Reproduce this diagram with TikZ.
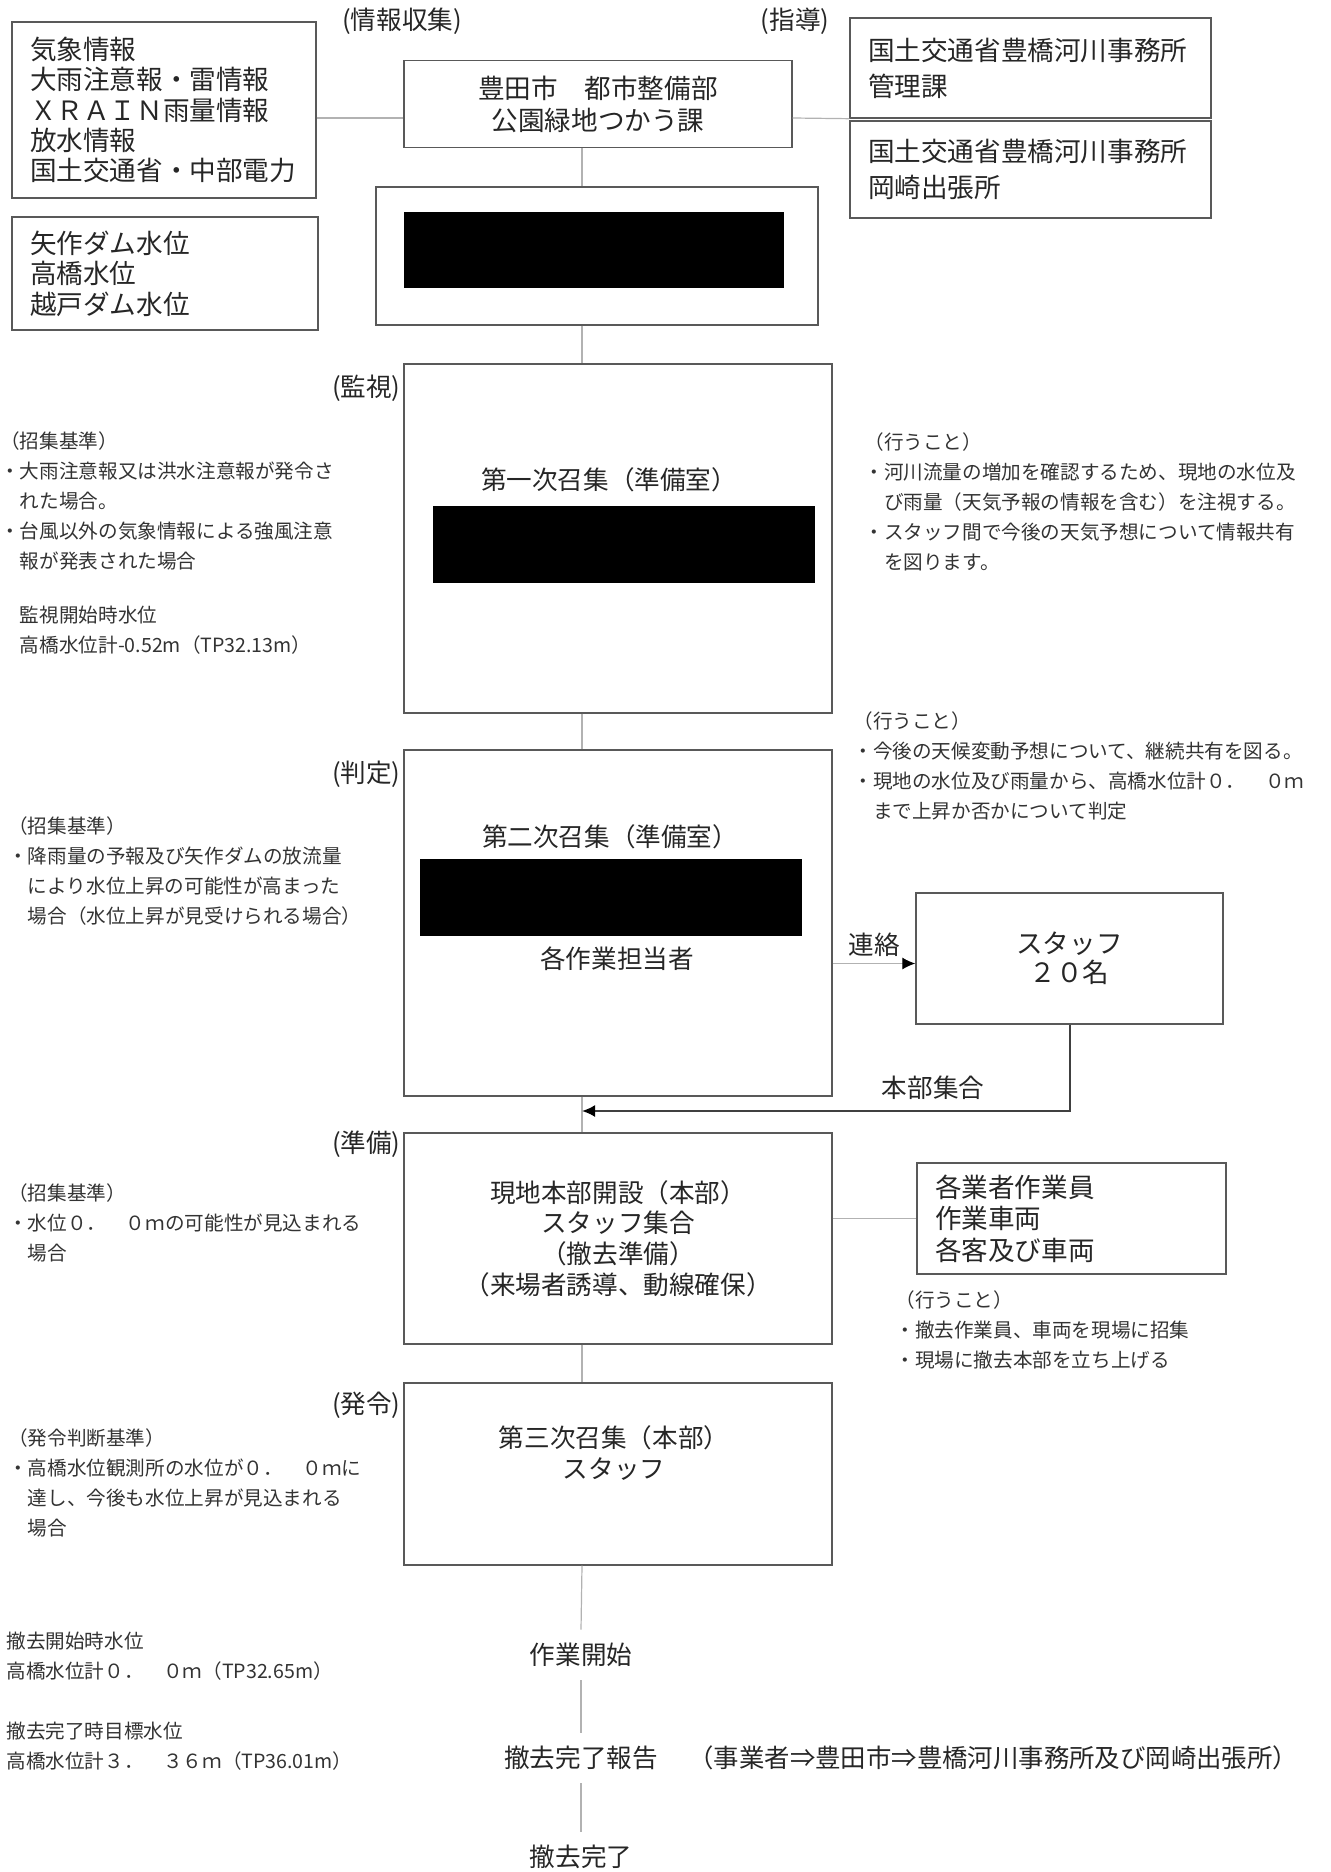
\documentclass[tikz,border=0pt]{standalone}
\usepackage{fontspec}
\setmainfont{Noto Sans CJK JP}
\usetikzlibrary{arrows.meta}
\newcommand{\bigfont}{\fontsize{12.8}{15.4}\selectfont}
\newcommand{\notefont}{\fontsize{9.8}{15}\selectfont}

\begin{document}
\begin{tikzpicture}[x=0.5pt,y=-0.5pt,
  frame/.style={draw=black!65,line width=0.7pt,inner sep=0pt,text=black!85},
  listbox/.style={frame,align=left,inner xsep=9pt,font=\fontsize{13.3}{15.2}\selectfont},
  bar/.style={fill=black,inner sep=0pt},
  phase/.style={inner sep=0pt,text=black!85,font=\fontsize{12.8}{15}\selectfont},
  note/.style={anchor=north west,align=left,inner sep=0pt,text=black!80,font=\notefont},
  link/.style={draw=black!30,line width=0.6pt},
  tip/.style={-{Latex[length=6.5pt,width=6pt,color=black]}},
  milestone/.style={inner sep=0pt,minimum height=25pt,text=black!85,font=\bigfont}
]
\useasboundingbox (0,0) rectangle (1330,1872);
\coordinate (spine) at (582,0);
\coordinate (tie) at (0,118);
\coordinate (merge) at (582,1111);

% information
\node[phase] (collect) at (402,21) {(情報収集)};
\node[phase] (guide) at (795,21) {(指導)};
\node[listbox,text width=134pt,minimum height=88pt] (weather) at (164,110)
  {気象情報\\大雨注意報・雷情報\\ＸＲＡＩＮ雨量情報\\放水情報\\国土交通省・中部電力};
\node[listbox,text width=135pt,minimum height=56.5pt] (level) at (165,273.5)
  {矢作ダム水位\\高橋水位\\越戸ダム水位};
\node[frame,align=center,minimum width=194pt,minimum height=43.5pt,font=\fontsize{13.3}{16}\selectfont] (city) at (598,104)
  {豊田市　都市整備部\\公園緑地つかう課};
\node[listbox,text width=162.5pt,minimum height=50pt,font=\fontsize{13.3}{18}\selectfont] (mlit1) at (1030.5,68)
  {国土交通省豊橋河川事務所\\管理課};
\node[listbox,text width=162.5pt,minimum height=48.5pt,font=\fontsize{13.3}{18}\selectfont] (mlit2) at (1030.5,169.5)
  {国土交通省豊橋河川事務所\\岡崎出張所};
\node[frame,minimum width=221pt,minimum height=69pt] (hidden) at (597,256) {};
\node[bar,minimum width=190pt,minimum height=38pt] (bar0) at (594,250) {};

% monitoring
\node[phase,anchor=east] (p1) at (401,388) {(監視)};
\node[frame,minimum width=214pt,minimum height=174.5pt] (first) at (618,538.5) {};
\node[font=\bigfont,text=black!85] (firstcap) at (609,480) {第一次召集（準備室）};
\node[bar,minimum width=191pt,minimum height=38.5pt] (bar1) at (624,544.5) {};
\node[note] (crit1) at (0,431) {（招集基準）\\・大雨注意報又は洪水注意報が発令さ\\　れた場合。\\・台風以外の気象情報による強風注意\\　報が発表された場合};
\node[note] (watch) at (0,606) {　監視開始時水位\\　高橋水位計-0.52m（TP32.13m）};
\node[note] (todo1) at (864,432) {（行うこと）\\・河川流量の増加を確認するため、現地の水位及\\　び雨量（天気予報の情報を含む）を注視する。\\・スタッフ間で今後の天気予想について情報共有\\　を図ります。};

% judgement
\node[phase,anchor=east] (p2) at (401,774) {(判定)};
\node[frame,minimum width=214pt,minimum height=173pt] (second) at (618,923) {};
\node[font=\bigfont,text=black!85] (secondcap) at (610,837) {第二次召集（準備室）};
\node[bar,minimum width=191pt,minimum height=38.5pt] (bar2) at (611,897.5) {};
\node[font=\bigfont,text=black!85] (workers) at (617,959) {各作業担当者};
\node[frame,align=center,minimum width=153.5pt,minimum height=65.5pt,font=\fontsize{13.3}{14.5}\selectfont] (staff) at (1069.5,958.5)
  {スタッフ\\２０名};
\node[note] (todo2) at (853,711) {（行うこと）\\・今後の天候変動予想について、継続共有を図る。\\・現地の水位及び雨量から、高橋水位計０．　０ｍ\\　まで上昇か否かについて判定};
\node[note] (crit2) at (8,816) {（招集基準）\\・降雨量の予報及び矢作ダムの放流量\\　により水位上昇の可能性が高まった\\　場合（水位上昇が見受けられる場合）};

% preparation
\node[phase,anchor=east] (p3) at (401,1144) {(準備)};
\node[frame,align=center,minimum width=214pt,minimum height=105.5pt,font=\fontsize{12.8}{15.3}\selectfont] (base) at (618,1238.5)
  {現地本部開設（本部）\\スタッフ集合\\（撤去準備）\\（来場者誘導、動線確保）};
\node[listbox,text width=136.5pt,minimum height=55.5pt,font=\fontsize{13.3}{15.75}\selectfont] (crew) at (1071.5,1218.5)
  {各業者作業員\\作業車両\\各客及び車両};
\node[note] (crit3) at (8,1183) {（招集基準）\\・水位０．　０ｍの可能性が見込まれる\\　場合};
\node[note] (todo3) at (895,1290) {（行うこと）\\・撤去作業員、車両を現場に招集\\・現場に撤去本部を立ち上げる};

% order
\node[phase,anchor=east] (p4) at (401,1405) {(発令)};
\node[frame,minimum width=214pt,minimum height=91pt] (third) at (618,1474) {};
\node[align=center,font=\bigfont,text=black!85] (thirdcap) at (614,1453) {第三次召集（本部）\\スタッフ};
\node[note] (crit4) at (8,1428) {（発令判断基準）\\・高橋水位観測所の水位が０．　０ｍに\\　達し、今後も水位上昇が見込まれる\\　場合};

% removal
\node[milestone] (start) at (581,1655) {作業開始};
\node[milestone] (report) at (581,1758) {撤去完了報告};
\node[anchor=west,inner sep=0pt,text=black!85,font=\fontsize{12.7}{14}\selectfont] (route) at (688,1758)
  {（事業者⇒豊田市⇒豊橋河川事務所及び岡崎出張所）};
\node[milestone] (done) at (581,1857) {撤去完了};
\node[note] (lvstart) at (6,1632) {撤去開始時水位\\高橋水位計０．　０ｍ（TP32.65m）};
\node[note] (lvend) at (6,1722) {撤去完了時目標水位\\高橋水位計３．　３６ｍ（TP36.01m）};

\draw[link] (weather.east |- tie) -- (city.west |- tie);
\draw[link] (city.east |- tie) -- (mlit1.south west);
\draw[link] (city.south -| spine) -- (hidden.north -| spine);
\draw[link] (hidden.south -| spine) -- (first.north -| spine);
\draw[link] (first.south -| spine) -- (second.north -| spine);
\draw[link] (second.south -| spine) -- (base.north -| spine);
\draw[link] (base.south -| spine) -- (third.north -| spine);
\draw[link] (third.south -| spine) -- (start.north);
\draw[link] (start) -- (report);
\draw[link] (report) -- (done);
\draw[link] (base.east |- crew.west) -- (crew.west);
\draw[link,tip] ([yshift=-2.5pt]second.east |- staff.west) -- node[above,font=\bigfont,text=black!85] {連絡} ([yshift=-2.5pt]staff.west);
\draw[link,tip,draw=black!75,line width=1pt] (staff.south) |- node[pos=0.64,above=2pt,font=\bigfont,text=black!85] {本部集合} (merge);
\end{tikzpicture}
\end{document}
